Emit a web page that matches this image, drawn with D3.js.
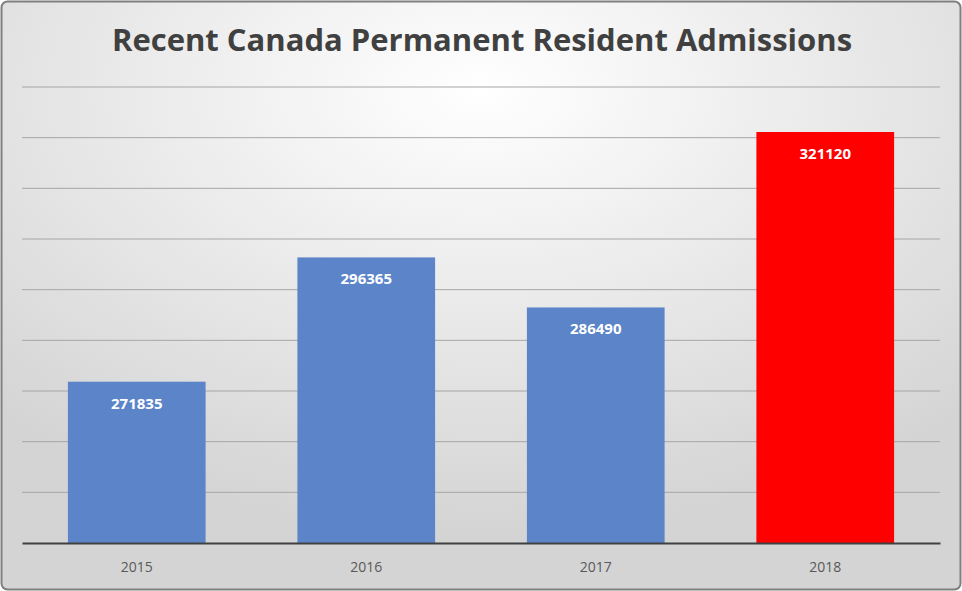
<!DOCTYPE html>
<html>
<head>
<meta charset="utf-8">
<script src="https://cdn.jsdelivr.net/npm/d3@7"></script>
<style>
  body { margin: 0; background: #fff; }
  svg { display: block; font-family: "Open Sans", "DejaVu Sans", sans-serif; }
</style>
</head>
<body>
<svg id="chart" width="962" height="591"></svg>
<script>
var years = ["2015", "2016", "2017", "2018"];
var admissions = [271835, 296365, 286490, 321120];
var barColors = ["#5b84c9", "#5b84c9", "#5b84c9", "#ff0000"];
var gridValues = [250000, 260000, 270000, 280000, 290000, 300000, 310000, 320000, 330000];

var svg = d3.select("#chart"),
    margin = {top: 87, right: 22, bottom: 48, left: 22},
    width = +svg.attr("width") - margin.left - margin.right,
    height = +svg.attr("height") - margin.top - margin.bottom;

// background
var defs = svg.append("defs");
var grad = defs.append("radialGradient").attr("id", "bg")
    .attr("cx", "50%").attr("cy", "15%").attr("r", "75%");
grad.append("stop").attr("offset", "0%").attr("stop-color", "#ffffff");
grad.append("stop").attr("offset", "100%").attr("stop-color", "#d4d4d4");

svg.append("rect")
    .attr("x", 1.5).attr("y", 1.5).attr("width", 959).attr("height", 588)
    .attr("rx", 6).attr("fill", "url(#bg)")
    .attr("stroke", "#7f7f7f").attr("stroke-width", 2);

svg.append("text")
    .attr("x", 482).attr("y", 51)
    .attr("text-anchor", "middle")
    .attr("font-size", 31).attr("font-weight", "bold")
    .attr("fill", "#404040")
    .text("Recent Canada Permanent Resident Admissions");

var g = svg.append("g")
    .attr("transform", "translate(" + margin.left + "," + margin.top + ")");

var x = d3.scaleBand().domain(years).range([0, width])
    .paddingInner(0.4).paddingOuter(0.2);
var y = d3.scaleLinear().domain([240000, 330000]).range([height, 0]);

g.selectAll(".grid")
    .data(gridValues)
    .enter().append("line")
    .attr("x1", 0).attr("x2", width)
    .attr("y1", d => y(d)).attr("y2", d => y(d))
    .attr("stroke", "#a6a6a6").attr("stroke-width", 1);

g.selectAll(".bar")
    .data(admissions)
    .enter().append("rect")
    .attr("x", (d, i) => x(years[i]))
    .attr("y", d => y(d))
    .attr("width", x.bandwidth())
    .attr("height", d => height - y(d))
    .attr("fill", (d, i) => barColors[i]);

g.selectAll(".label")
    .data(admissions)
    .enter().append("text")
    .attr("x", (d, i) => x(years[i]) + x.bandwidth() / 2)
    .attr("y", d => y(d) + 27)
    .attr("text-anchor", "middle")
    .attr("font-size", 15).attr("font-weight", "bold")
    .attr("fill", "#ffffff")
    .text(d => d);

var xAxis = g.append("g")
    .attr("transform", "translate(0," + height + ")")
    .call(d3.axisBottom(x).tickSize(0).tickPadding(19));
xAxis.select(".domain").attr("stroke", "#404040").attr("stroke-width", 2);
xAxis.selectAll("text")
    .attr("font-size", 14).attr("fill", "#595959")
    .attr("font-family", "\"Open Sans\", sans-serif");
</script>
</body>
</html>
